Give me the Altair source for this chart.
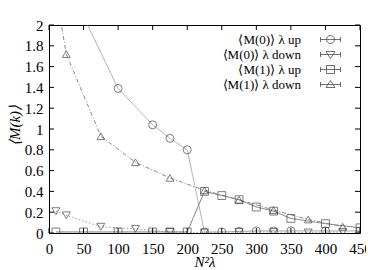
import altair as alt
import pandas as pd

series = ["⟨M(0)⟩ λ up", "⟨M(0)⟩ λ down", "⟨M(1)⟩ λ up", "⟨M(1)⟩ λ down"]

x_m0_up = [50, 100, 150, 175, 200, 225, 250, 275, 300, 325, 350, 400, 450]
y_m0_up = [2.08, 1.39, 1.04, 0.91, 0.80, 0.01, 0.01, 0.015, 0.02, 0.02, 0.02, 0.02, 0.02]

x_m0_down = [10, 25, 75, 125, 175, 225, 275, 325, 375, 425]
y_m0_down = [0.21, 0.17, 0.06, 0.04, 0.01, 0.005, 0.01, 0.01, 0.005, 0.01]

x_m1_up = [10, 50, 100, 150, 175, 200, 225, 250, 275, 300, 325, 350, 400, 450]
y_m1_up = [0.01, 0.01, 0.01, 0.01, 0.01, 0.01, 0.40, 0.36, 0.32, 0.25, 0.21, 0.14, 0.09, 0.05]

x_m1_down = [10, 25, 75, 125, 175, 225, 275, 325, 375, 425]
y_m1_down = [2.32, 1.72, 0.93, 0.68, 0.53, 0.41, 0.32, 0.22, 0.13, 0.06]

x_ticks = [0, 50, 100, 150, 200, 250, 300, 350, 400, 450]
y_ticks = [0, 0.2, 0.4, 0.6, 0.8, 1, 1.2, 1.4, 1.6, 1.8, 2]

W, H = 311, 208
SERIF = "Liberation Serif"
NB = "\u00a0\u00a0\u00a0"

rows = []
for name, xs, ys in zip(series, [x_m0_up, x_m0_down, x_m1_up, x_m1_down],
                        [y_m0_up, y_m0_down, y_m1_up, y_m1_down]):
    for xv, yv in zip(xs, ys):
        rows.append({"series": name, "x": xv, "y": yv})
df = pd.DataFrame(rows)

xs = alt.Scale(domain=[0, 450], nice=False, zero=False)
ys = alt.Scale(domain=[0, 2], nice=False, zero=False)

line_styles = {
    series[0]: dict(color="#aaaaaa", strokeDash=[1, 0]),
    series[1]: dict(color="#999999", strokeDash=[1.5, 2]),
    series[2]: dict(color="#777777", strokeDash=[1, 0]),
    series[3]: dict(color="#888888", strokeDash=[4, 2, 1, 2]),
}

x_axis = alt.Axis(values=x_ticks, title="N²λ", labelPadding=8, titleBaseline="alphabetic",
                  titleY=33,
                  labelExpr="datum.value >= 450 ? format(datum.value, 'd') + '" + NB + "' : format(datum.value, 'd')")
y_axis = alt.Axis(values=y_ticks, title="⟨M(k)⟩", labelPadding=6, titlePadding=2, titleY=100,
                  labelExpr="replace(format(datum.value, '.1f'), '.0', '')")

base = alt.Chart(df)
layers = []
for s in series:
    st = line_styles[s]
    layers.append(
        base.transform_filter(alt.datum.series == s)
        .mark_line(clip=True, strokeWidth=1, color=st["color"], strokeDash=st["strokeDash"])
        .encode(x=alt.X("x:Q", scale=xs, axis=x_axis), y=alt.Y("y:Q", scale=ys, axis=y_axis),
                order="x:Q")
    )

points = base.mark_point(clip=True, filled=False, color="#333333", strokeWidth=0.9).encode(
    x=alt.X("x:Q", scale=xs, axis=x_axis),
    y=alt.Y("y:Q", scale=ys, axis=y_axis),
    shape=alt.Shape("series:N", scale=alt.Scale(domain=series,
                    range=["circle", "triangle-down", "square", "triangle-up"]), legend=None),
    size=alt.Size("series:N", scale=alt.Scale(domain=series, range=[64, 60, 64, 60]), legend=None),
)

leg_paths = [
    "M-2,0H2M-2,-0.5V0.5M2,-0.5V0.5M0.8,0A0.8,0.8,0,1,1,-0.8,0A0.8,0.8,0,1,1,0.8,0",
    "M-2,0H2M-2,-0.5V0.5M2,-0.5V0.5M-0.9,-0.6L0.9,-0.6L0,0.8Z",
    "M-2,0H2M-2,-0.5V0.5M2,-0.5V0.5M-0.8,-0.8H0.8V0.8H-0.8Z",
    "M-2,0H2M-2,-0.5V0.5M2,-0.5V0.5M-0.9,0.6L0.9,0.6L0,-0.8Z",
]
legend_layer = base.transform_filter("false").mark_point(filled=False, color="black").encode(
    x=alt.X("x:Q", scale=xs, axis=x_axis),
    y=alt.Y("y:Q", scale=ys, axis=y_axis),
    shape=alt.Shape("series:N", scale=alt.Scale(domain=series, range=leg_paths),
                    legend=alt.Legend(title=None, orient="none", legendX=275, legendY=8,
                                      labelAlign="right", labelOffset={"expr": "-36"},
                                      labelFont=SERIF, labelFontSize=13, labelColor="black",
                                      symbolSize=100, symbolStrokeWidth=0.8,
                                      symbolStrokeColor="black", symbolFillColor="transparent",
                                      rowPadding=1, padding=0, labelLimit=300)),
)

tk_x = pd.DataFrame({"v": x_ticks})
tk_y = pd.DataFrame({"v": y_ticks})
TL = 5
ticks = [
    alt.Chart(tk_x).mark_rule(color="black", strokeWidth=1).encode(
        x=alt.X("v:Q", scale=xs, axis=x_axis), y=alt.value(H), y2=alt.value(H - TL)),
    alt.Chart(tk_x).mark_rule(color="black", strokeWidth=1).encode(
        x=alt.X("v:Q", scale=xs, axis=x_axis), y=alt.value(0), y2=alt.value(TL)),
    alt.Chart(tk_y).mark_rule(color="black", strokeWidth=1).encode(
        y=alt.Y("v:Q", scale=ys, axis=y_axis), x=alt.value(0), x2=alt.value(TL)),
    alt.Chart(tk_y).mark_rule(color="black", strokeWidth=1).encode(
        y=alt.Y("v:Q", scale=ys, axis=y_axis), x=alt.value(W), x2=alt.value(W - TL)),
]

chart = alt.layer(*layers, points, legend_layer, *ticks).resolve_scale(
    shape="independent", size="independent"
).properties(
    width=W, height=H,
    background="white",
    autosize=alt.AutoSizeParams(type="none"),
    padding={"left": 41, "top": 17, "right": 6, "bottom": 37},
).configure_view(
    stroke="black", strokeWidth=1
).configure_axis(
    labelFont=SERIF, labelFontSize=15, labelColor="black", ticks=False,
    domain=False, grid=False, titleFont=SERIF, titleFontSize=15,
    titleColor="black", titleFontWeight="normal", titleFontStyle="italic",
    labelOverlap=False, labelFlush=False, labelBound=False
)

chart.save("out.html", embed_options={"renderer": "svg", "actions": False})
